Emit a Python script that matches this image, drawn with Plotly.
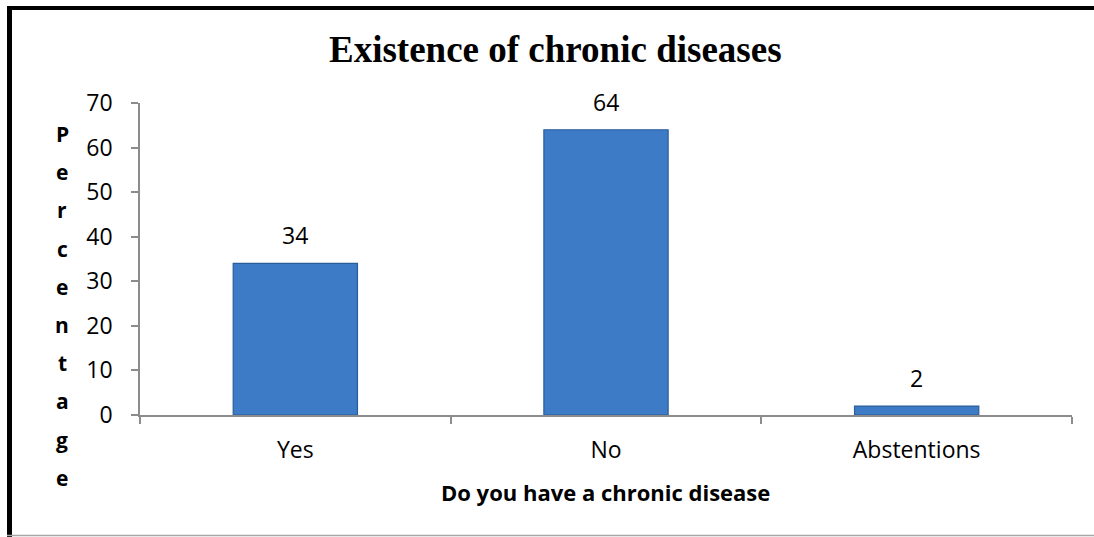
import plotly.graph_objects as go

# Survey answers and their share of respondents (%)
categories = ["Yes", "No", "Abstentions"]
percentages = [34, 64, 2]
y_ticks = [0, 10, 20, 30, 40, 50, 60, 70]

title_text = "Existence of chronic diseases"
x_title = "Do you have a chronic disease"
y_title = "Percentage"

W, H = 1094, 537
ML, MR, MT, MB = 140, 22, 103, 122
PW, PH = W - ML - MR, H - MT - MB


def px_x(px):
    return (px - ML) / PW


def px_y(py):
    return (H - MB - py) / PH


fig = go.Figure()
fig.add_trace(go.Bar(
    x=categories,
    y=percentages,
    width=0.4,
    marker=dict(color="#3d7bc6", line=dict(color="#2b5d9b", width=1.2)),
    hoverinfo="x+y",
))

axis_color = "#8c8c8c"
label_font = dict(family="Open Sans", size=23, color="#000000")

fig.update_layout(
    width=W, height=H,
    margin=dict(l=ML, r=MR, t=MT, b=MB),
    paper_bgcolor="white",
    plot_bgcolor="white",
    showlegend=False,
    xaxis=dict(
        showline=True, linecolor=axis_color, linewidth=1.5,
        ticks="outside", tickson="boundaries", ticklen=7, tickcolor=axis_color, tickwidth=1.5,
        tickfont=label_font, ticklabelstandoff=14,
        showgrid=False, zeroline=False, fixedrange=True,
    ),
    yaxis=dict(
        range=[0, 70], tickvals=y_ticks,
        showline=True, linecolor=axis_color, linewidth=1.5,
        ticks="outside", ticklen=7, tickcolor=axis_color, tickwidth=1.5,
        tickfont=label_font, ticklabelstandoff=14,
        showgrid=False, zeroline=False, fixedrange=True,
    ),
)

annotations = [
    dict(text="<b>" + title_text + "</b>", xref="paper", yref="paper",
         x=px_x(555), y=px_y(50), xanchor="center", yanchor="middle",
         showarrow=False,
         font=dict(family="Liberation Serif", size=37, color="#000000")),
    dict(text="<b>" + x_title + "</b>", xref="paper", yref="paper",
         x=px_x(605), y=px_y(492), xanchor="center", yanchor="middle",
         showarrow=False,
         font=dict(family="Open Sans", size=22, color="#000000")),
]

# value labels above each bar
for cat, val in zip(categories, percentages):
    annotations.append(dict(
        text=str(val), x=cat, y=val, xref="x", yref="y",
        xanchor="center", yanchor="bottom", yshift=10,
        showarrow=False, font=label_font,
    ))

# y-axis title written as a vertical column of letters
letter_top, letter_step = 134, 38.2
for i, ch in enumerate(y_title):
    annotations.append(dict(
        text="<b>" + ch + "</b>", xref="paper", yref="paper",
        x=px_x(62), y=px_y(letter_top + i * letter_step),
        xanchor="center", yanchor="middle", showarrow=False,
        font=dict(family="Open Sans", size=21, color="#000000"),
    ))

fig.update_layout(
    annotations=annotations,
    shapes=[
        # chart frame: heavy left and top edges, thin grey bottom edge
        dict(type="line", xref="paper", yref="paper",
             x0=px_x(9.5), x1=px_x(9.5), y0=px_y(6), y1=px_y(537),
             line=dict(color="black", width=5)),
        dict(type="line", xref="paper", yref="paper",
             x0=px_x(7), x1=px_x(1094), y0=px_y(8), y1=px_y(8),
             line=dict(color="black", width=4)),
        dict(type="line", xref="paper", yref="paper",
             x0=px_x(7), x1=px_x(1094), y0=px_y(535.5), y1=px_y(535.5),
             line=dict(color="#a6a6a6", width=1.5)),
    ],
)

fig.write_html("out.html")
